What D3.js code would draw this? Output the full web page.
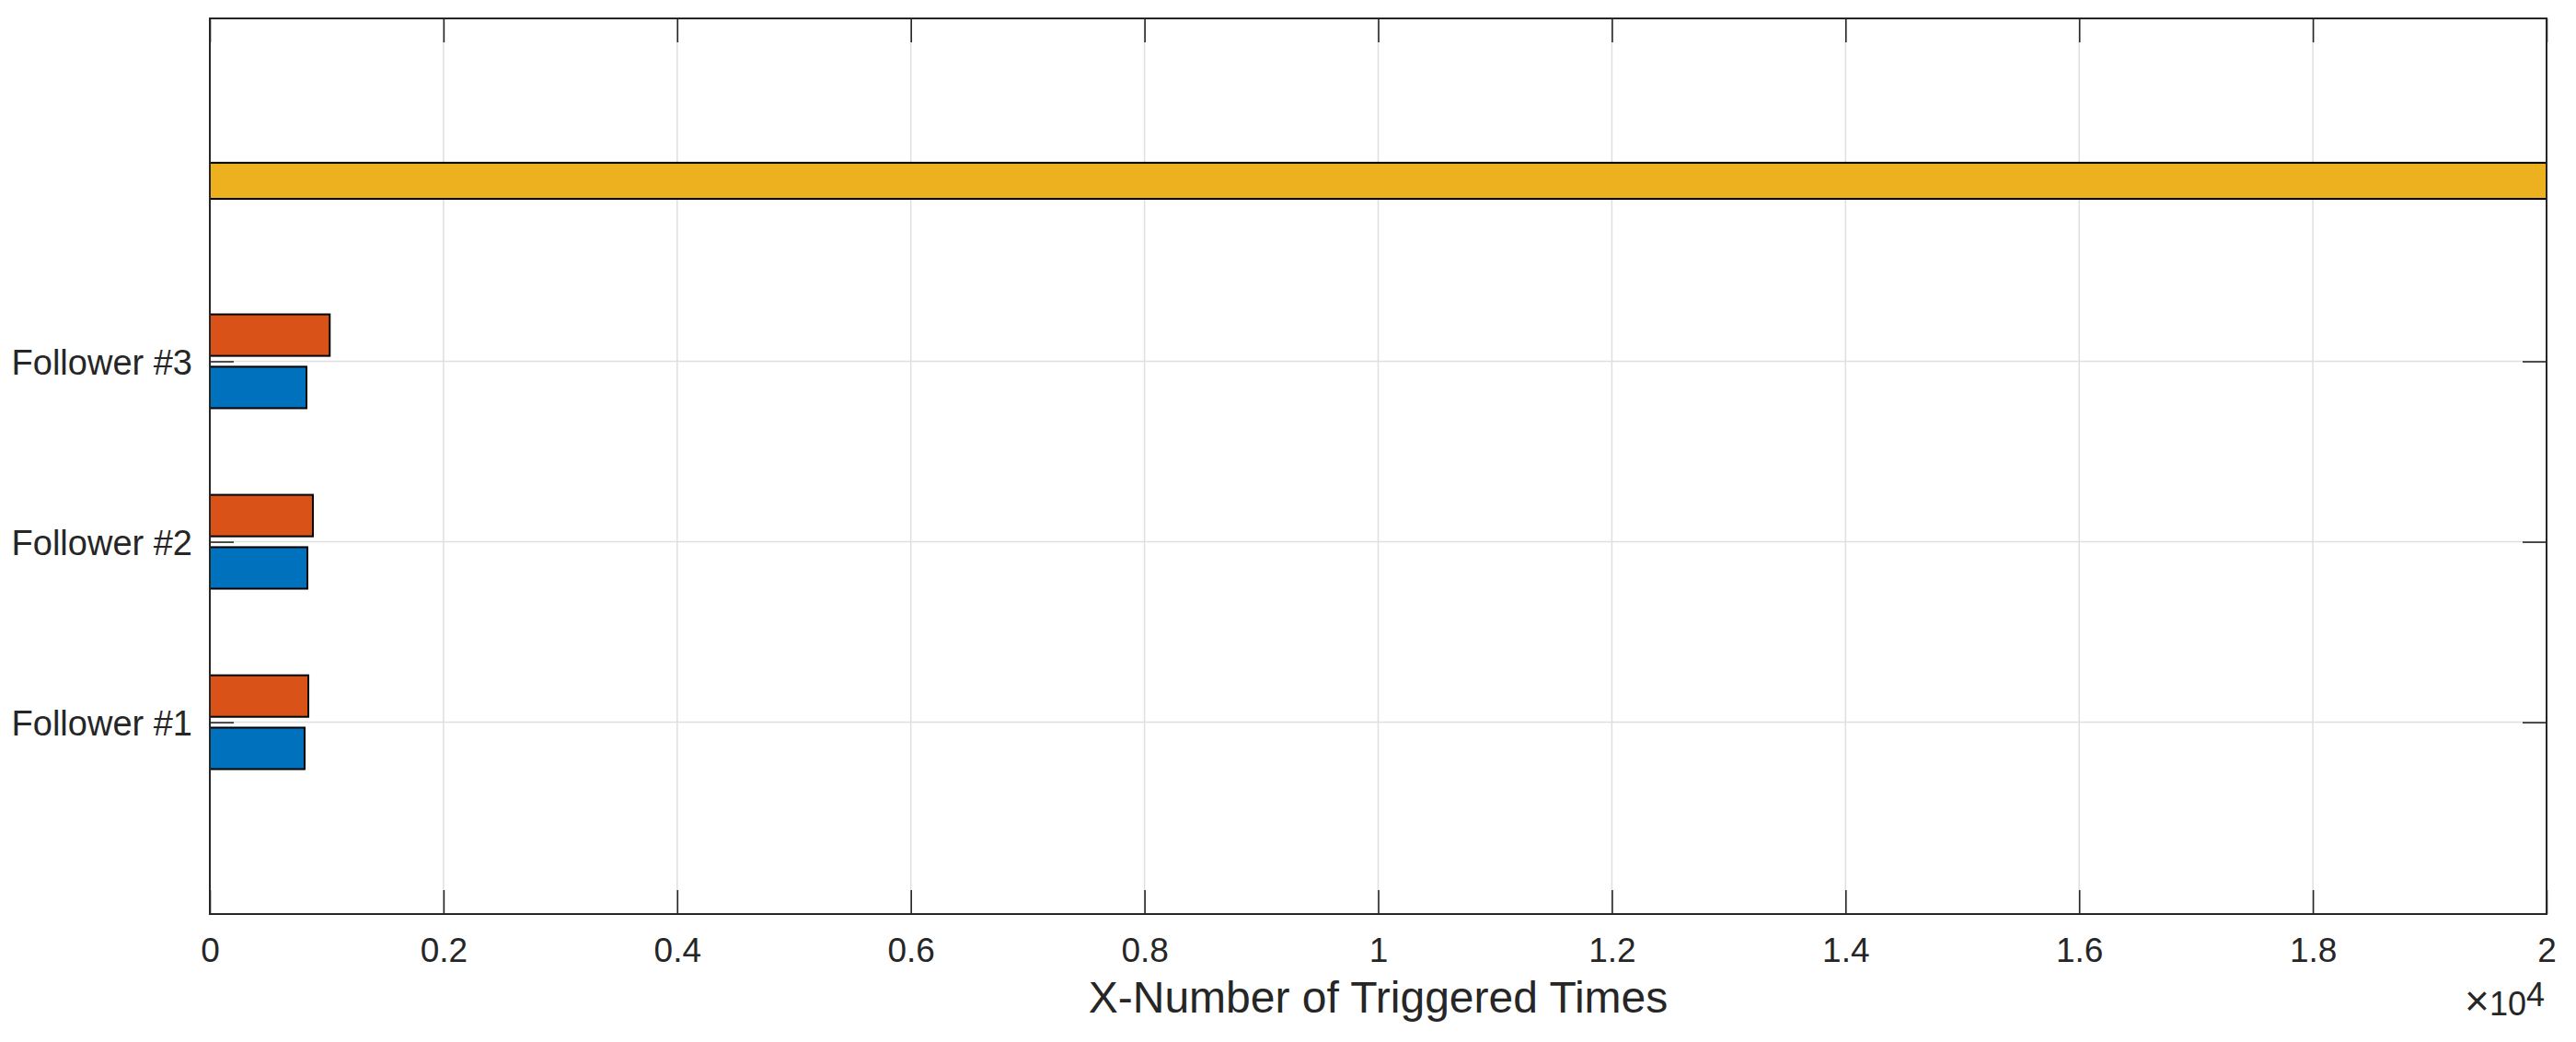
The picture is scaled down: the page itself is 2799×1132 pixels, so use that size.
<!DOCTYPE html>
<html>
<head>
    <meta charset="utf-8">
    <title>Triggered Times</title>
    <script src="https://cdnjs.cloudflare.com/ajax/libs/d3/7.8.5/d3.min.js"></script>
    <style>
        body { margin: 0; background: white; }
        svg { display: block; font-family: "Liberation Sans", Arial, sans-serif; }
    </style>
</head>
<body>
    <div id="chart"></div>
    <script>
        // data
        const categories = ["Follower #1", "Follower #2", "Follower #3"];
        const catPos = [1, 2, 3];
        const blueValues = [811, 835, 827];
        const orangeValues = [843, 882, 1026];
        const leaderPos = [4];
        const leaderValues = [21000];   // runs past the right edge, clipped
        const xTickValues = [0, 2000, 4000, 6000, 8000, 10000, 12000, 14000, 16000, 18000, 20000];

        const width = 2799, height = 1132;
        const plotL = 228, plotR = 2767, plotT = 20, plotB = 993;
        const ink = "#262626";

        const svg = d3.select("#chart").append("svg")
            .attr("width", width)
            .attr("height", height);

        const x = d3.scaleLinear().domain([0, 20000]).range([plotL, plotR]);
        const y = d3.scaleLinear().domain([-0.063, 4.9]).range([plotB, plotT]);
        const unit = y(0) - y(1);

        svg.append("defs").append("clipPath").attr("id", "plotclip")
            .append("rect")
            .attr("x", plotL).attr("y", plotT)
            .attr("width", plotR - plotL).attr("height", plotB - plotT);

        // grid
        const grid = svg.append("g").attr("stroke", "#dfdfdf").attr("stroke-width", 1.5);
        grid.selectAll("line.v")
            .data(xTickValues.slice(1, -1))
            .join("line")
            .attr("class", "v")
            .attr("x1", d => x(d)).attr("x2", d => x(d))
            .attr("y1", plotT).attr("y2", plotB);
        grid.selectAll("line.h")
            .data(catPos)
            .join("line")
            .attr("class", "h")
            .attr("x1", plotL).attr("x2", plotR)
            .attr("y1", d => y(d)).attr("y2", d => y(d));

        // bars
        const bars = svg.append("g").attr("clip-path", "url(#plotclip)")
            .attr("stroke", "#000").attr("stroke-width", 2);
        const barH = 0.23 * unit;
        const off = 0.145 * unit;

        bars.selectAll("rect.orange")
            .data(orangeValues)
            .join("rect")
            .attr("class", "orange")
            .attr("x", x(0))
            .attr("y", (d, i) => y(catPos[i]) - off - barH / 2)
            .attr("width", d => x(d) - x(0))
            .attr("height", barH)
            .attr("fill", "#D95319");

        bars.selectAll("rect.blue")
            .data(blueValues)
            .join("rect")
            .attr("class", "blue")
            .attr("x", x(0))
            .attr("y", (d, i) => y(catPos[i]) + off - barH / 2)
            .attr("width", d => x(d) - x(0))
            .attr("height", barH)
            .attr("fill", "#0072BD");

        const leadH = 0.2 * unit;
        bars.selectAll("rect.leader")
            .data(leaderValues)
            .join("rect")
            .attr("class", "leader")
            .attr("x", x(0))
            .attr("y", (d, i) => y(leaderPos[i]) - leadH / 2)
            .attr("width", d => x(d) - x(0))
            .attr("height", leadH)
            .attr("fill", "#EDB120");

        // axes
        const styleAxis = fs => g => {
            g.select(".domain").remove();
            g.selectAll(".tick line").attr("stroke", ink).attr("stroke-width", 1.6);
            g.selectAll(".tick text").attr("fill", ink).attr("font-size", fs)
                .attr("font-family", "'Liberation Sans', Arial, sans-serif");
        };

        svg.append("g")
            .attr("transform", `translate(0,${plotB})`)
            .call(d3.axisBottom(x).tickValues(xTickValues).tickFormat(d => d / 10000)
                .tickSizeInner(-26).tickSizeOuter(0).tickPadding(26))
            .call(styleAxis(37));

        svg.append("g")
            .attr("transform", `translate(0,${plotT})`)
            .call(d3.axisTop(x).tickValues(xTickValues).tickFormat("")
                .tickSizeInner(-26).tickSizeOuter(0))
            .call(styleAxis(37));

        svg.append("g")
            .attr("transform", `translate(${plotL},0)`)
            .call(d3.axisLeft(y).tickValues(catPos).tickFormat((d, i) => categories[i])
                .tickSizeInner(-26).tickSizeOuter(0).tickPadding(19))
            .call(styleAxis(38))
            .call(g => g.selectAll(".tick text").attr("dy", "0.36em"));

        svg.append("g")
            .attr("transform", `translate(${plotR},0)`)
            .call(d3.axisRight(y).tickValues(catPos).tickFormat("")
                .tickSizeInner(-26).tickSizeOuter(0))
            .call(styleAxis(37));

        // box
        svg.append("rect")
            .attr("x", plotL).attr("y", plotT)
            .attr("width", plotR - plotL).attr("height", plotB - plotT)
            .attr("fill", "none").attr("stroke", ink).attr("stroke-width", 2);

        // exponent label
        const expo = svg.append("text")
            .attr("x", plotR - 2).attr("y", 1103)
            .attr("text-anchor", "end")
            .attr("fill", ink).attr("font-size", 36);
        expo.append("tspan").attr("font-size", 46).text("\u00d7");
        expo.append("tspan").text("10");
        expo.append("tspan").attr("dy", -10).text("4");

        // x label
        svg.append("text")
            .attr("x", (plotL + plotR) / 2).attr("y", 1100)
            .attr("text-anchor", "middle")
            .attr("fill", ink).attr("font-size", 48)
            .text("X-Number of Triggered Times");
    </script>
</body>
</html>
